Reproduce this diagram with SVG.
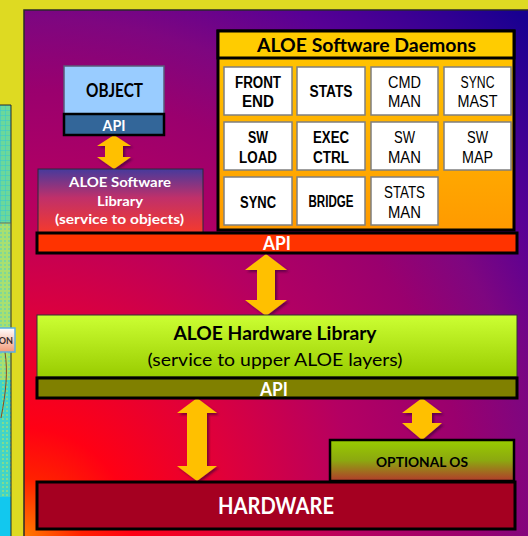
<svg xmlns="http://www.w3.org/2000/svg" width="528" height="536" viewBox="0 0 528 536">
<defs>
<radialGradient id="bg" gradientUnits="userSpaceOnUse" cx="24" cy="536" r="720">
<stop offset="0" stop-color="#FF7A00"/>
<stop offset="0.08" stop-color="#FF2000"/>
<stop offset="0.15" stop-color="#FF0014"/>
<stop offset="0.3" stop-color="#DE003C"/>
<stop offset="0.47" stop-color="#B40062"/>
<stop offset="0.62" stop-color="#9A006E"/>
<stop offset="0.72" stop-color="#7E0680"/>
<stop offset="0.82" stop-color="#580095"/>
<stop offset="1" stop-color="#180090"/>
</radialGradient>
<linearGradient id="swlib" x1="0" y1="0" x2="0" y2="1">
<stop offset="0" stop-color="#463A9C"/>
<stop offset="0.45" stop-color="#C0306A"/>
<stop offset="1" stop-color="#F53A2C"/>
</linearGradient>
<linearGradient id="dae" x1="0" y1="0" x2="0" y2="1">
<stop offset="0" stop-color="#FFC800"/>
<stop offset="1" stop-color="#FF9A00"/>
</linearGradient>
<linearGradient id="hwlib" x1="0" y1="0" x2="0" y2="1">
<stop offset="0" stop-color="#CCFF33"/>
<stop offset="1" stop-color="#99CC00"/>
</linearGradient>
<linearGradient id="os" x1="0" y1="0" x2="0" y2="1">
<stop offset="0" stop-color="#99CC00"/>
<stop offset="0.5" stop-color="#8CA810"/>
<stop offset="1" stop-color="#B23A2C"/>
</linearGradient>
<linearGradient id="onb" x1="0" y1="0" x2="0" y2="1">
<stop offset="0" stop-color="#FFFFFF"/>
<stop offset="1" stop-color="#F49A78"/>
</linearGradient>
<pattern id="chk" width="5" height="5" patternUnits="userSpaceOnUse">
<rect width="5" height="5" fill="#6CD89A"/>
<path d="M0 0.3H5M0.3 0V5" stroke="#30C8D8" stroke-width="0.6"/>
</pattern>
<pattern id="spk" width="4" height="4" patternUnits="userSpaceOnUse">
<rect width="4" height="4" fill="#A8E070"/>
<rect x="0" y="0" width="2" height="2" fill="#7ED89A"/>
</pattern>
<pattern id="spc" width="4" height="4" patternUnits="userSpaceOnUse">
<rect width="4" height="4" fill="#40D4C8"/>
<rect x="2" y="2" width="2" height="2" fill="#80DC90"/>
</pattern>
<filter id="sh" x="-30%" y="-30%" width="160%" height="160%">
<feDropShadow dx="2" dy="2" stdDeviation="1" flood-color="#2A0030" flood-opacity="0.55"/>
</filter>
<style>
.cell{fill:#fff;stroke:#7f7f7f;stroke-width:1.5}
.cb{font-family:"Liberation Sans",Arial,sans-serif;font-weight:bold;font-size:16px;text-anchor:middle;fill:#000}
.cr{font-family:"Liberation Sans",Arial,sans-serif;font-size:16px;text-anchor:middle;fill:#000}
.ca{font-family:Lato,"Liberation Sans",sans-serif;text-anchor:middle}
.bar{stroke:#000;stroke-width:3}
.arr{fill:#FFC000;filter:url(#sh)}
</style>
</defs>

<!-- background slide -->
<rect x="0" y="0" width="528" height="536" fill="#DEDA22"/>

<!-- partial left panel -->
<g id="left-strip">
<rect x="-2" y="105" width="13" height="118" fill="url(#chk)"/>
<rect x="-2" y="223" width="13" height="157" fill="url(#spk)"/>
<rect x="-2" y="380" width="13" height="117" fill="url(#spc)"/>
<rect x="-2" y="497" width="13" height="40" fill="#12C8EE"/>
<path d="M-2 105H11V536" fill="none" stroke="#2a2a2a" stroke-width="1"/>
<path d="M-2 223H11" stroke="#555" stroke-width="0.8"/>
<path d="M5 352C8 372 6 392 1 418" fill="none" stroke="#8B4A1A" stroke-width="1"/>
<rect x="-3" y="328" width="18" height="24" fill="url(#onb)" stroke="#5AAEE6" stroke-width="1.5"/>
<text x="13" y="344" font-family="Lato,'Liberation Sans',sans-serif" font-weight="bold" font-size="9" text-anchor="end" fill="#3a2a2a">ON</text>
</g>

<!-- main panel -->
<rect x="24" y="10" width="510" height="530" fill="url(#bg)" stroke="#2a2a2a" stroke-width="1.5"/>

<g id="connectors">
<path class="arr" d="M114 135L131 146H123V157H131L114 169L97 157H105V146H97Z"/>
<path class="arr" d="M266 254L287 270H275V300H287L266 316L245 300H257V270H245Z"/>
<path class="arr" d="M197 398L217 413H207V466H217L197 481L177 466H187V413H177Z"/>
<path class="arr" d="M422 398L442 413H432V423H442L422 440L402 423H412V413H402Z"/>
</g>

<g id="object">
<rect x="64" y="66" width="100" height="48" fill="#99CCFF" stroke="#5a5a7a" stroke-width="1.5"/>
<text class="ca" x="114.5" y="97" font-size="18" font-weight="bold" fill="#000" textLength="57" lengthAdjust="spacingAndGlyphs">OBJECT</text>
</g>
<g id="object-api">
<rect x="64" y="114" width="100" height="21" fill="#336699" stroke="#000" stroke-width="2.5"/>
<text class="ca" x="114" y="131" font-size="15" font-weight="bold" fill="#fff" textLength="23" lengthAdjust="spacingAndGlyphs">API</text>
</g>

<g id="sw-library">
<rect x="38" y="169" width="165" height="64" fill="url(#swlib)" stroke="#2a2a3a" stroke-width="1"/>
<text class="ca" x="120" y="187" font-size="14" font-weight="bold" fill="#fff" textLength="102" lengthAdjust="spacingAndGlyphs">ALOE Software</text>
<text class="ca" x="120" y="206" font-size="14" font-weight="bold" fill="#fff" textLength="46" lengthAdjust="spacingAndGlyphs">Library</text>
<text class="ca" x="119.5" y="224" font-size="14" font-weight="bold" fill="#fff" textLength="129" lengthAdjust="spacingAndGlyphs">(service to objects)</text>
</g>

<g id="daemons">
<rect x="218" y="31" width="296" height="199" fill="url(#dae)" stroke="#000" stroke-width="3"/>
<rect x="218" y="31" width="296" height="27" fill="#FFCC00" stroke="#000" stroke-width="3"/>
<text class="ca" x="366.5" y="52" font-size="19" font-weight="bold" fill="#000" textLength="219" lengthAdjust="spacingAndGlyphs">ALOE Software Daemons</text>
</g>

<g id="d-frontend"><rect class="cell" x="224" y="67" width="68" height="48"/>
<text class="cb" x="258" y="88" textLength="46" lengthAdjust="spacingAndGlyphs">FRONT</text>
<text class="cb" x="258" y="107" textLength="32" lengthAdjust="spacingAndGlyphs">END</text></g>
<g id="d-stats"><rect class="cell" x="297" y="67" width="68" height="48"/>
<text class="cb" x="331" y="97" textLength="43" lengthAdjust="spacingAndGlyphs">STATS</text></g>
<g id="d-cmdman"><rect class="cell" x="371" y="67" width="67" height="48"/>
<text class="cr" x="404.5" y="88" textLength="33" lengthAdjust="spacingAndGlyphs">CMD</text>
<text class="cr" x="404.5" y="107" textLength="33" lengthAdjust="spacingAndGlyphs">MAN</text></g>
<g id="d-syncmast"><rect class="cell" x="444" y="67" width="67" height="48"/>
<text class="cr" x="477.5" y="88" textLength="34" lengthAdjust="spacingAndGlyphs">SYNC</text>
<text class="cr" x="477.5" y="107" textLength="40" lengthAdjust="spacingAndGlyphs">MAST</text></g>

<g id="d-swload"><rect class="cell" x="224" y="122" width="68" height="48"/>
<text class="cb" x="258" y="143" textLength="20" lengthAdjust="spacingAndGlyphs">SW</text>
<text class="cb" x="258" y="163" textLength="38" lengthAdjust="spacingAndGlyphs">LOAD</text></g>
<g id="d-execctrl"><rect class="cell" x="297" y="122" width="68" height="48"/>
<text class="cb" x="331" y="143" textLength="36" lengthAdjust="spacingAndGlyphs">EXEC</text>
<text class="cb" x="331" y="163" textLength="36" lengthAdjust="spacingAndGlyphs">CTRL</text></g>
<g id="d-swman"><rect class="cell" x="371" y="122" width="67" height="48"/>
<text class="cr" x="404.5" y="143" textLength="21" lengthAdjust="spacingAndGlyphs">SW</text>
<text class="cr" x="404.5" y="163" textLength="33" lengthAdjust="spacingAndGlyphs">MAN</text></g>
<g id="d-swmap"><rect class="cell" x="444" y="122" width="67" height="48"/>
<text class="cr" x="477.5" y="143" textLength="21" lengthAdjust="spacingAndGlyphs">SW</text>
<text class="cr" x="477.5" y="163" textLength="31" lengthAdjust="spacingAndGlyphs">MAP</text></g>

<g id="d-sync"><rect class="cell" x="224" y="177" width="68" height="48"/>
<text class="cb" x="258" y="208" textLength="36" lengthAdjust="spacingAndGlyphs">SYNC</text></g>
<g id="d-bridge"><rect class="cell" x="297" y="177" width="68" height="48"/>
<text class="cb" x="331" y="207" font-size="14" textLength="45" lengthAdjust="spacingAndGlyphs">BRIDGE</text></g>
<g id="d-statsman"><rect class="cell" x="371" y="177" width="67" height="48"/>
<text class="cr" x="404.5" y="198" textLength="41" lengthAdjust="spacingAndGlyphs">STATS</text>
<text class="cr" x="404.5" y="218" textLength="33" lengthAdjust="spacingAndGlyphs">MAN</text></g>

<g id="api-top">
<rect class="bar" x="37" y="233" width="480" height="20" fill="#FF3300"/>
<text class="ca" x="277" y="249.5" font-size="18" font-weight="bold" fill="#fff" textLength="28" lengthAdjust="spacingAndGlyphs">API</text>
</g>

<g id="hw-library">
<rect x="37" y="315" width="480" height="62" fill="url(#hwlib)" stroke="#333" stroke-width="1"/>
<text class="ca" x="275" y="340" font-size="18" font-weight="bold" fill="#000" textLength="203" lengthAdjust="spacingAndGlyphs">ALOE Hardware Library</text>
<text class="ca" x="275" y="366" font-size="18" fill="#000" textLength="255" lengthAdjust="spacingAndGlyphs">(service to upper ALOE layers)</text>
</g>

<g id="api-bottom">
<rect class="bar" x="37" y="378" width="480" height="20" fill="#808000"/>
<text class="ca" x="274" y="396" font-size="18" font-weight="bold" fill="#fff" textLength="28" lengthAdjust="spacingAndGlyphs">API</text>
</g>

<g id="optional-os">
<rect x="330" y="440" width="184" height="41" fill="url(#os)" stroke="#000" stroke-width="2.5"/>
<text class="ca" x="422" y="467" font-size="14" font-weight="bold" fill="#000" textLength="92" lengthAdjust="spacingAndGlyphs">OPTIONAL OS</text>
</g>

<g id="hardware">
<rect x="37" y="482" width="478" height="47" fill="#A50021" stroke="#000" stroke-width="3"/>
<text class="ca" x="276" y="514" font-size="22" font-weight="bold" fill="#fff" textLength="116" lengthAdjust="spacingAndGlyphs">HARDWARE</text>
</g>
</svg>
